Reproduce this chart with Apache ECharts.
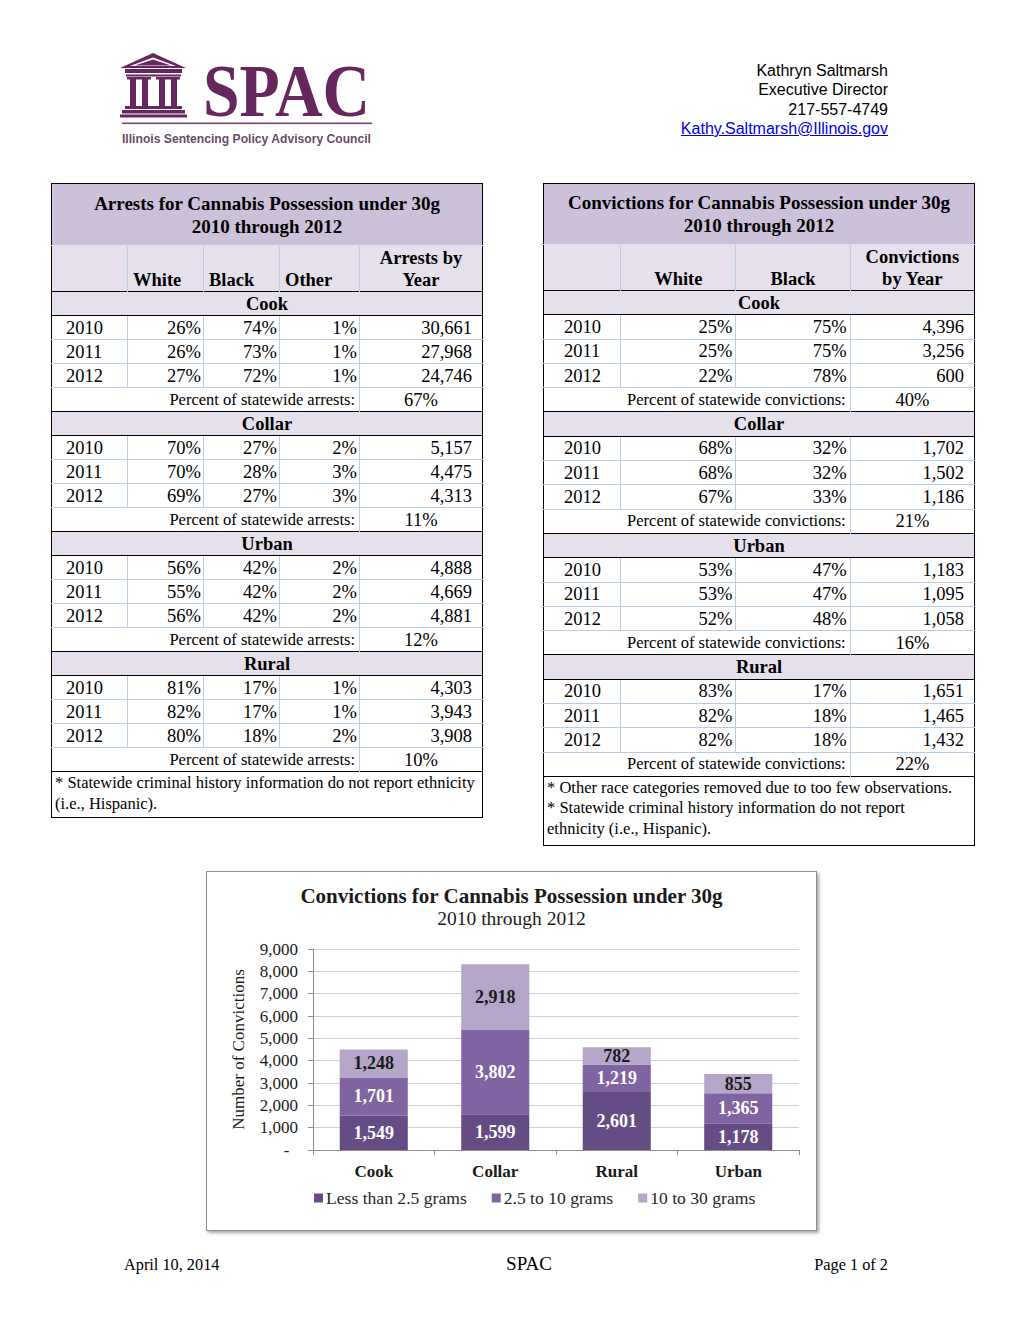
<!DOCTYPE html>
<html>
<head>
<meta charset="utf-8">
<script src="https://cdn.jsdelivr.net/npm/echarts@6/dist/echarts.min.js"></script>
<style>
  html,body{margin:0;padding:0;background:#fff;}
  body{width:1020px;height:1320px;position:relative;overflow:hidden;font-family:"Liberation Serif",serif;color:#000;}
  .abs{position:absolute;}
  .contact{position:absolute;right:132px;top:61px;text-align:right;font-family:"Liberation Sans",Arial,sans-serif;font-size:16px;line-height:19.3px;color:#000;}
  .contact a{color:#0000ee;text-decoration:underline;}
  table.t{position:absolute;border-collapse:collapse;table-layout:fixed;border:1.5px solid #000;font-family:"Liberation Serif",serif;}
  table.t td{padding:0;height:23px;line-height:22px;font-size:18.5px;white-space:nowrap;overflow:hidden;}
  .title td{background:#ccc0da;font-weight:bold;font-size:19px !important;text-align:center;line-height:23px !important;border-bottom:1.5px solid #dbe5f1;}
  .hdr td{background:#e5e0ec;font-weight:bold;vertical-align:bottom;border-left:1.5px solid #b8cce4;}
  .hdr td:first-child{border-left:none;}
  .reg td{background:#e5e0ec;font-weight:bold;text-align:center;border-top:1.5px solid #000;border-bottom:1.5px solid #000;}
  .dat td{border-left:1.5px solid #b8cce4;border-top:1px solid #b8cce4;text-align:right;}
  .dat td:first-child{border-left:none;text-align:left;}
  .pct td{border-top:1px solid #b8cce4;font-size:16.5px !important;}
  .pct td.lab{text-align:right;padding-right:4px;}
  .pct td.val{text-align:center;border-left:1.5px solid #b8cce4;font-size:18.5px !important;}
  .foot td{border-top:1.5px solid #000;font-size:16.5px !important;line-height:20.5px !important;vertical-align:top;padding:1px 3px !important;}
  #frame{position:absolute;left:206px;top:871px;width:611px;height:360px;box-sizing:border-box;border:1px solid #8e8e8e;box-shadow:2px 2px 3px rgba(0,0,0,0.35);background:#fff;}
  #chart{position:absolute;left:0;top:0;width:609px;height:358px;}
  .footer{position:absolute;top:1255px;font-family:"Liberation Serif","Times New Roman",serif;font-size:16.3px;}
</style>
</head>
<body>

<!-- Logo -->
<svg class="abs" style="left:0;top:0" width="420" height="160" viewBox="0 0 420 160">
  <g fill="#66275f" stroke="none">
    <polygon points="153,53 186,68 120,68" />
    <polygon points="153,57.5 176,66 130,66" fill="#fff"/>
    <polygon points="153,59.5 171,65.5 135,65.5" />
    <rect x="125" y="69" width="57" height="4"/>
    <rect x="126" y="74.5" width="55" height="2"/>
    <rect x="130" y="78" width="6" height="28"/>
    <rect x="142" y="78" width="6" height="28"/>
    <rect x="159" y="78" width="6" height="28"/>
    <rect x="171" y="78" width="6" height="28"/>
    <rect x="127" y="77" width="12" height="2.5"/>
    <rect x="139" y="77" width="12" height="2.5"/>
    <rect x="156" y="77" width="12" height="2.5"/>
    <rect x="168" y="77" width="12" height="2.5"/>
    <rect x="125" y="106" width="57" height="3"/>
    <rect x="122" y="110" width="63" height="3.5"/>
    <rect x="120" y="114.5" width="67" height="3"/>
  </g>
  <text x="203" y="116" fill="#66275f" font-family="Liberation Serif" font-weight="bold" font-size="73" textLength="167" lengthAdjust="spacingAndGlyphs">SPAC</text>
  <rect x="122" y="122.5" width="250" height="1.6" fill="#7a4a74"/>
  <text x="122" y="142.5" fill="#6a4a67" font-family="Liberation Sans" font-weight="bold" font-size="12" textLength="249" lengthAdjust="spacingAndGlyphs">Illinois Sentencing Policy Advisory Council</text>
</svg>

<div class="contact">
  Kathryn Saltmarsh<br>
  Executive Director<br>
  217-557-4749<br>
  <a>Kathy.Saltmarsh@Illinois.gov</a>
</div>

<div id="tables"></div>

<div id="frame"><div id="chart"></div></div>

<div class="footer" style="left:124px;">April 10, 2014</div>
<div class="footer" style="left:0;width:1058px;text-align:center;font-size:19px;top:1253px;">SPAC</div>
<div class="footer" style="right:132px;">Page 1 of 2</div>

<script>
// ---------------- DATA ----------------
const years = ['2010', '2011', '2012'];
const regions = ['Cook', 'Collar', 'Urban', 'Rural'];

// Arrests table
const arrestWhite  = [[26, 26, 27], [70, 70, 69], [56, 55, 56], [81, 82, 80]];
const arrestBlack  = [[74, 73, 72], [27, 28, 27], [42, 42, 42], [17, 17, 18]];
const arrestOther  = [[1, 1, 1], [2, 3, 3], [2, 2, 2], [1, 1, 2]];
const arrestTotals = [[30661, 27968, 24746], [5157, 4475, 4313], [4888, 4669, 4881], [4303, 3943, 3908]];
const arrestShare  = [67, 11, 12, 10];

// Convictions table
const convWhite  = [[25, 25, 22], [68, 68, 67], [53, 53, 52], [83, 82, 82]];
const convBlack  = [[75, 75, 78], [32, 32, 33], [47, 47, 48], [17, 18, 18]];
const convTotals = [[4396, 3256, 600], [1702, 1502, 1186], [1183, 1095, 1058], [1651, 1465, 1432]];
const convShare  = [40, 21, 16, 22];

// Chart
const chartCategories = ['Cook', 'Collar', 'Rural', 'Urban'];
const lessThan25 = [1549, 1599, 2601, 1178];
const from25to10 = [1701, 3802, 1219, 1365];
const from10to30 = [1248, 2918, 782, 855];
const seriesNames = ['Less than 2.5 grams', '2.5 to 10 grams', '10 to 30 grams'];
const yTicks = [0, 1000, 2000, 3000, 4000, 5000, 6000, 7000, 8000, 9000];

// ---------------- TABLES ----------------
const fmt = v => v.toLocaleString('en-US');

function buildArrests() {
  let h = '<table class="t" style="left:51px;top:183px;width:432px;">';
  h += '<colgroup><col style="width:76px"><col style="width:76px"><col style="width:76px"><col style="width:80px"><col style="width:123px"></colgroup>';
  h += '<tr class="title"><td colspan="5" style="height:61px">Arrests for Cannabis Possession under 30g<br>2010 through 2012</td></tr>';
  h += '<tr class="hdr"><td style="height:45px"></td><td style="padding-left:5px">White</td><td style="padding-left:5px">Black</td><td style="padding-left:5px">Other</td><td style="text-align:center;line-height:22px">Arrests by<br>Year</td></tr>';
  regions.forEach((r, i) => {
    h += `<tr class="reg"><td colspan="5">${r}</td></tr>`;
    years.forEach((y, j) => {
      h += `<tr class="dat"><td style="padding-left:14px">${y}</td><td style="padding-right:2px">${arrestWhite[i][j]}%</td><td style="padding-right:2px">${arrestBlack[i][j]}%</td><td style="padding-right:2px">${arrestOther[i][j]}%</td><td style="padding-right:10px">${fmt(arrestTotals[i][j])}</td></tr>`;
    });
    h += `<tr class="pct"><td class="lab" colspan="4">Percent of statewide arrests:</td><td class="val">${arrestShare[i]}%</td></tr>`;
  });
  h += '<tr class="foot"><td colspan="5" style="height:43px">* Statewide criminal history information do not report ethnicity<br>(i.e., Hispanic).</td></tr>';
  h += '</table>';
  return h;
}

function buildConvictions() {
  let h = '<table class="t" style="left:543px;top:183px;width:432px;">';
  h += '<colgroup><col style="width:77px"><col style="width:115px"><col style="width:114px"><col style="width:124px"></colgroup>';
  h += '<tr class="title"><td colspan="4" style="height:59.5px">Convictions for Cannabis Possession under 30g<br>2010 through 2012</td></tr>';
  h += '<tr class="hdr"><td style="height:45.5px"></td><td style="text-align:center">White</td><td style="text-align:center">Black</td><td style="text-align:center;line-height:22px">Convictions<br>by Year</td></tr>';
  regions.forEach((r, i) => {
    h += `<tr class="reg"><td colspan="4" style="height:23.3px">${r}</td></tr>`;
    years.forEach((y, j) => {
      h += `<tr class="dat"><td style="padding-left:20px;height:23.3px">${y}</td><td style="padding-right:3px">${convWhite[i][j]}%</td><td style="padding-right:3px">${convBlack[i][j]}%</td><td style="padding-right:10px">${fmt(convTotals[i][j])}</td></tr>`;
    });
    h += `<tr class="pct"><td class="lab" colspan="3" style="height:23.3px">Percent of statewide convictions:</td><td class="val">${convShare[i]}%</td></tr>`;
  });
  h += '<tr class="foot"><td colspan="4" style="height:66px">* Other race categories removed due to too few observations.<br>* Statewide criminal history information do not report<br>ethnicity (i.e., Hispanic).</td></tr>';
  h += '</table>';
  return h;
}

document.getElementById('tables').innerHTML = buildArrests() + buildConvictions();

// ---------------- CHART ----------------
const colors = ['#654c85', '#8064a2', '#b4a5c9'];
const labelColors = ['#ffffff', '#ffffff', '#1a1a1a'];
const dataSets = [lessThan25, from25to10, from10to30];

const chart = echarts.init(document.getElementById('chart'), null, { renderer: 'svg' });
chart.setOption({
  animation: false,
  textStyle: { fontFamily: 'Liberation Serif' },
  title: [
    { text: 'Convictions for Cannabis Possession under 30g', left: 'center', top: 8,
      textStyle: { fontSize: 21, fontWeight: 'bold', color: '#1a1a1a', fontFamily: 'Liberation Serif' } },
    { text: '2010 through 2012', left: 'center', top: 31,
      textStyle: { fontSize: 19.5, fontWeight: 'normal', color: '#1a1a1a', fontFamily: 'Liberation Serif' } }
  ],
  grid: { left: 106, right: 17, top: 77, bottom: 80 },
  legend: {
    top: 312, left: 102, itemWidth: 9, itemHeight: 9, itemGap: 25, icon: 'rect',
    textStyle: { fontSize: 17.6, color: '#262626', fontFamily: 'Liberation Serif', padding: [0, 0, 0, -2] },
    data: seriesNames
  },
  xAxis: {
    type: 'category', data: chartCategories,
    axisLine: { lineStyle: { color: '#8c8c8c' } },
    axisTick: { show: true, length: 5, lineStyle: { color: '#8c8c8c' } },
    axisLabel: { fontSize: 17, fontWeight: 'bold', color: '#1a1a1a', margin: 13, fontFamily: 'Liberation Serif' }
  },
  yAxis: {
    type: 'value', min: yTicks[0], max: yTicks[yTicks.length - 1], interval: yTicks[1] - yTicks[0],
    name: 'Number of Convictions', nameLocation: 'middle', nameGap: 66, nameRotate: 90,
    nameTextStyle: { fontSize: 17, color: '#1a1a1a', fontFamily: 'Liberation Serif' },
    axisLine: { show: true, lineStyle: { color: '#8c8c8c' } },
    axisTick: { show: true, length: 5, lineStyle: { color: '#8c8c8c' } },
    splitLine: { lineStyle: { color: '#d0d0d0' } },
    axisLabel: { fontSize: 17, color: '#1a1a1a', margin: 15, fontFamily: 'Liberation Serif',
      formatter: v => v === 0 ? '-\u2007' : fmt(v) }
  },
  series: dataSets.map((d, k) => ({
    name: seriesNames[k], type: 'bar', stack: 'total', data: d, barWidth: '56%',
    itemStyle: { color: colors[k] },
    label: { show: true, position: 'inside', color: labelColors[k], fontSize: 18, fontWeight: 'bold',
      fontFamily: 'Liberation Serif', formatter: p => fmt(p.value) }
  }))
});
</script>
</body>
</html>
